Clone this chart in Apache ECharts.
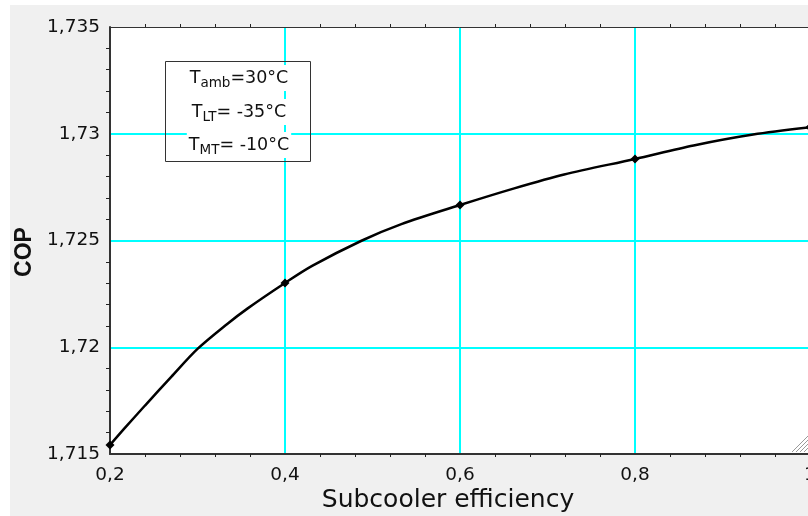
<!DOCTYPE html>
<html>
<head>
<meta charset="utf-8">
<script src="https://cdn.jsdelivr.net/npm/echarts@6/dist/echarts.min.js"></script>
<style>
  html, body { margin: 0; padding: 0; background: #ffffff; }
  #frame { position: absolute; left: 10px; top: 5px; width: 798px; height: 511px; background: #f0f0f0; }
  #chart { position: absolute; left: 0; top: 0; width: 808px; height: 516px; }
</style>
</head>
<body>
<div id="frame"></div>
<div id="chart"></div>
<script>
// COP of the booster system against subcooler efficiency
const efficiency = [0.2, 0.217, 0.24, 0.27, 0.30, 0.334, 0.357, 0.4, 0.431, 0.488, 0.533, 0.6, 0.662, 0.719, 0.8, 0.867, 0.935, 1.0];
const cop = [1.71542, 1.71622, 1.71727, 1.71861, 1.71992, 1.72109, 1.72181, 1.72301, 1.72381, 1.72500, 1.72577, 1.72666, 1.72744, 1.72809, 1.72882, 1.72945, 1.72996, 1.73030];
// calculated points shown with a marker
const markedEfficiency = [0.2, 0.4, 0.6, 0.8, 1.0];

// axis scales
const xMin = 0.2, xMax = 1.0, xStep = 0.2;
const yMin = 1.715, yMax = 1.735, yStep = 0.005;

// conditions box
const conditionLines = [
  ['T', 'amb', '=30°C'],
  ['T', 'LT', '= -35°C'],
  ['T', 'MT', '= -10°C']
];

const FONT = 'DejaVu Sans';
const fmt = v => String(+v.toFixed(3)).replace('.', ',');

const seriesData = efficiency.map((x, i) => {
  const marked = markedEfficiency.some(m => Math.abs(m - x) < 1e-9);
  return {
    value: [x, cop[i]],
    symbol: marked ? 'diamond' : 'none',
    symbolSize: marked ? 9 : 0
  };
});

const chart = echarts.init(document.getElementById('chart'), null, { renderer: 'canvas' });

const gridLine = () => ({ show: true, showMinLine: false, showMaxLine: false, lineStyle: { color: '#00ffff', width: 2 } });
const frameLine = () => ({ show: true, lineStyle: { color: '#333333', width: 2 } });
const thinFrame = () => ({ show: true, lineStyle: { color: '#333333', width: 1 } });
const minor = len => ({ show: true, splitNumber: 5, length: len, lineStyle: { color: '#222222', width: 1 } });

const graphics = [];
// conditions box outline
graphics.push({
  type: 'rect', z: 100,
  shape: { x: 165.5, y: 61.5, width: 145, height: 100 },
  style: { fill: 'none', stroke: '#333333', lineWidth: 1 }
});
const lineY = [78, 112, 145];
conditionLines.forEach((parts, i) => {
  graphics.push({
    type: 'text', z: 101,
    x: 239, y: lineY[i],
    style: {
      text: '{m|' + parts[0] + '}{s|' + parts[1] + '}{m|' + parts[2] + '}',
      align: 'center', verticalAlign: 'middle',
      backgroundColor: '#ffffff',
      padding: [1, 2],
      rich: {
        m: { fontFamily: FONT, fontSize: 17.5, lineHeight: 24, fill: '#111111' },
        s: { fontFamily: FONT, fontSize: 13.5, lineHeight: 10, verticalAlign: 'bottom', fill: '#111111' }
      }
    }
  });
});
// axis titles
graphics.push({
  type: 'text', z: 50,
  x: 448, y: 500,
  style: { text: 'Subcooler efficiency', fontFamily: FONT, fontSize: 25, fill: '#111111', align: 'center', verticalAlign: 'middle' }
});
graphics.push({
  type: 'text', z: 50,
  x: 24.5, y: 252, rotation: Math.PI / 2,
  style: { text: 'COP', fontFamily: 'Liberation Sans', fontWeight: 'bold', fontSize: 23, fill: '#111111', align: 'center', verticalAlign: 'middle' }
});
// window size grip in the corner
[4, 8, 12, 16].forEach(k => {
  graphics.push({
    type: 'line', z: 60,
    shape: { x1: 808 - k, y1: 452, x2: 808, y2: 452 - k },
    style: { stroke: '#9a9a9a', lineWidth: 1 }
  });
});

chart.setOption({
  animation: false,
  grid: {
    left: 110, top: 27, width: 700, height: 427,
    outerBoundsMode: 'none', containLabel: false,
    show: true, backgroundColor: '#ffffff', borderWidth: 0
  },
  xAxis: [
    {
      type: 'value', position: 'bottom', min: xMin, max: xMax, interval: xStep,
      axisLine: frameLine(),
      axisTick: { show: false },
      minorTick: minor(3),
      splitLine: gridLine(),
      axisLabel: { fontFamily: FONT, fontSize: 18.5, color: '#111111', margin: 12, formatter: fmt, hideOverlap: false }
    },
    {
      type: 'value', position: 'top', min: xMin, max: xMax, interval: xStep,
      axisLine: thinFrame(),
      axisTick: { show: false },
      minorTick: minor(3),
      splitLine: { show: false },
      axisLabel: { show: false }
    }
  ],
  yAxis: [
    {
      type: 'value', position: 'left', min: yMin, max: yMax, interval: yStep,
      axisLine: frameLine(),
      axisTick: { show: false },
      minorTick: minor(4),
      splitLine: gridLine(),
      axisLabel: { fontFamily: FONT, fontSize: 18.5, color: '#111111', margin: 10, formatter: fmt, hideOverlap: false }
    },
    {
      type: 'value', position: 'right', min: yMin, max: yMax, interval: yStep,
      axisLine: thinFrame(),
      axisTick: { show: false },
      minorTick: minor(4),
      splitLine: { show: false },
      axisLabel: { show: false }
    }
  ],
  series: [{
    type: 'line',
    xAxisIndex: 0, yAxisIndex: 0,
    data: seriesData,
    smooth: 0.3,
    showAllSymbol: true,
    lineStyle: { color: '#000000', width: 2.5 },
    itemStyle: { color: '#000000' },
    z: 5
  }],
  graphic: graphics
});
</script>
</body>
</html>
